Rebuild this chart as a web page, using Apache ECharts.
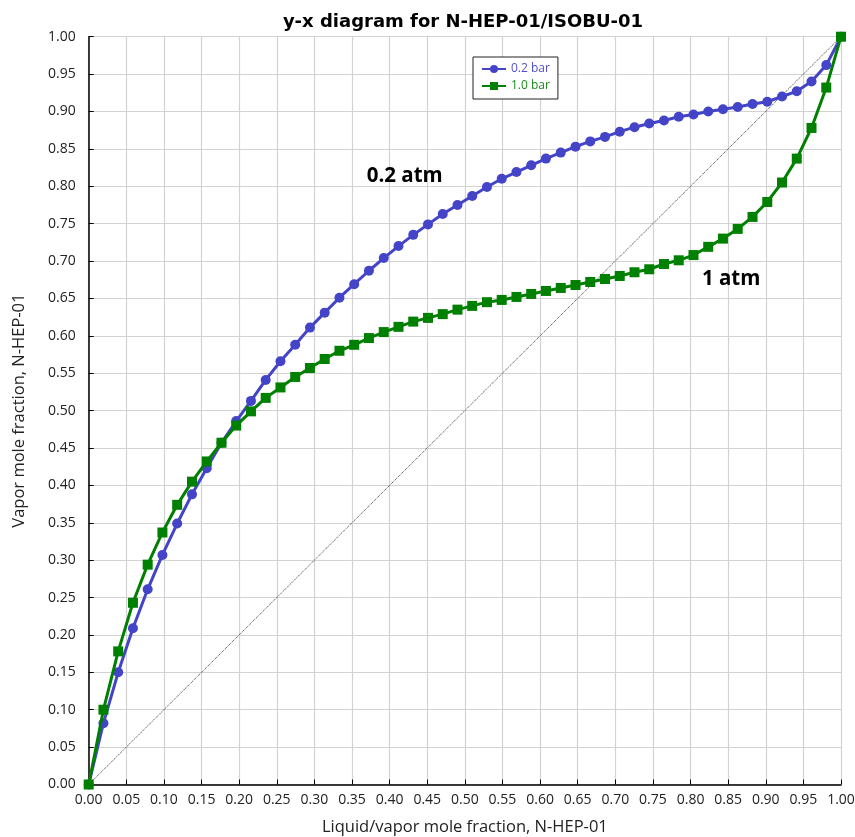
<!DOCTYPE html>
<html>
<head>
<meta charset="utf-8">
<script src="https://cdn.jsdelivr.net/npm/echarts@6/dist/echarts.min.js"></script>
<style>
html,body{margin:0;padding:0;background:#fff;}
#chart{width:855px;height:837px;}
</style>
</head>
<body>
<div id="chart"></div>
<script>
// Liquid mole fraction of N-HEP-01 (x values shared by both series)
const xValues = [0, 0.0196, 0.0392, 0.0588, 0.0784, 0.0980, 0.1176, 0.1373, 0.1569, 0.1765,
  0.1961, 0.2157, 0.2353, 0.2549, 0.2745, 0.2941, 0.3137, 0.3333, 0.3529, 0.3725,
  0.3922, 0.4118, 0.4314, 0.4510, 0.4706, 0.4902, 0.5098, 0.5294, 0.5490, 0.5686,
  0.5882, 0.6078, 0.6275, 0.6471, 0.6667, 0.6863, 0.7059, 0.7255, 0.7451, 0.7647,
  0.7843, 0.8039, 0.8235, 0.8431, 0.8627, 0.8824, 0.9020, 0.9216, 0.9412, 0.9608,
  0.9804, 1.0];

// Vapor mole fraction at 0.2 bar
const y02bar = [0, 0.082, 0.150, 0.209, 0.261, 0.307, 0.349, 0.388, 0.423, 0.457,
  0.486, 0.513, 0.541, 0.566, 0.588, 0.611, 0.631, 0.651, 0.669, 0.687,
  0.704, 0.720, 0.735, 0.749, 0.763, 0.775, 0.787, 0.799, 0.810, 0.819,
  0.828, 0.837, 0.845, 0.853, 0.860, 0.866, 0.873, 0.879, 0.884, 0.888,
  0.893, 0.896, 0.900, 0.903, 0.906, 0.910, 0.913, 0.920, 0.927, 0.940,
  0.962, 1.0];

// Vapor mole fraction at 1.0 bar
const y10bar = [0, 0.100, 0.178, 0.243, 0.294, 0.337, 0.374, 0.405, 0.432, 0.457,
  0.480, 0.499, 0.517, 0.531, 0.545, 0.557, 0.569, 0.580, 0.588, 0.597,
  0.605, 0.612, 0.619, 0.624, 0.629, 0.635, 0.640, 0.645, 0.648, 0.652,
  0.656, 0.660, 0.664, 0.668, 0.672, 0.676, 0.680, 0.685, 0.689, 0.696,
  0.701, 0.708, 0.719, 0.730, 0.743, 0.759, 0.779, 0.805, 0.837, 0.878,
  0.932, 1.0];

// 45-degree reference line
const diagX = [0, 1];
const diagY = [0, 1];

// Text annotations (data coordinates)
const annotationText = ['0.2 atm', '1 atm'];
const annotationX = [0.420, 0.854];
const annotationY = [0.813, 0.676];

const seriesNames = ['0.2 bar', '1.0 bar'];
const blue = '#4444c8';
const green = '#008000';
const FONT = 'Open Sans';

function pairs(xs, ys) { return xs.map((x, i) => [x, ys[i]]); }

const chart = echarts.init(document.getElementById('chart'));
chart.setOption({
  animation: false,
  backgroundColor: '#fff',
  textStyle: { fontFamily: FONT },
  title: {
    text: 'y-x diagram for N-HEP-01/ISOBU-01',
    left: 458, textAlign: 'center', top: 8,
    textStyle: { fontFamily: 'DejaVu Sans', fontSize: 18, fontWeight: 'bold', color: '#000' }
  },
  legend: {
    orient: 'vertical', left: 473, top: 57,
    padding: [6, 8, 7, 8], itemGap: 5,
    itemWidth: 24, itemHeight: 10,
    borderColor: '#222', borderWidth: 1, backgroundColor: '#fff',
    data: [
      { name: seriesNames[0], textStyle: { color: '#5050d0' } },
      { name: seriesNames[1], textStyle: { color: '#1a8a1a' } }
    ],
    textStyle: { fontFamily: FONT, fontSize: 12 }
  },
  grid: { left: 88.7, right: 14, top: 36.7, bottom: 52.5, containLabel: false, outerBoundsMode: 'none' },
  xAxis: {
    type: 'value', min: 0, max: 1, interval: 0.05,
    name: 'Liquid/vapor mole fraction, N-HEP-01',
    nameLocation: 'middle', nameGap: 34,
    nameTextStyle: { fontFamily: FONT, fontSize: 16.5, color: '#222' },
    axisLine: { show: true, onZero: false, lineStyle: { color: '#000', width: 1.5 } },
    axisTick: { show: true, inside: true, length: 5, lineStyle: { color: '#000' } },
    axisLabel: { margin: 9, fontFamily: FONT, fontSize: 14, color: '#222',
      formatter: v => v.toFixed(2) },
    splitLine: { show: true, lineStyle: { color: '#d2d2d2', width: 1.2 } }
  },
  yAxis: {
    type: 'value', min: 0, max: 1, interval: 0.05,
    name: 'Vapor mole fraction, N-HEP-01',
    nameLocation: 'middle', nameGap: 61,
    nameTextStyle: { fontFamily: FONT, fontSize: 16.5, color: '#222' },
    axisLine: { show: true, onZero: false, lineStyle: { color: '#000', width: 1.5 } },
    axisTick: { show: true, inside: true, length: 5, lineStyle: { color: '#000' } },
    axisLabel: { margin: 13, fontFamily: FONT, fontSize: 14, color: '#222',
      formatter: v => v.toFixed(2) },
    splitLine: { show: true, lineStyle: { color: '#d2d2d2', width: 1.2 } }
  },
  series: [
    {
      type: 'line', name: 'diag', data: pairs(diagX, diagY),
      showSymbol: false, silent: true, z: 1,
      lineStyle: { type: 'dotted', width: 1, color: '#333' }
    },
    {
      type: 'line', name: seriesNames[0], data: pairs(xValues, y02bar),
      symbol: 'circle', symbolSize: 10, z: 3,
      itemStyle: { color: blue },
      lineStyle: { color: blue, width: 3 }
    },
    {
      type: 'line', name: seriesNames[1], data: pairs(xValues, y10bar),
      symbol: 'rect', symbolSize: 10, z: 4,
      itemStyle: { color: green },
      lineStyle: { color: green, width: 3 }
    },
    {
      type: 'scatter', name: 'notes', silent: true, symbolSize: 1, z: 5,
      itemStyle: { color: 'rgba(0,0,0,0)', opacity: 1 },
      data: annotationText.map((t, i) => ({ value: [annotationX[i], annotationY[i]], name: t })),
      label: {
        show: true, position: 'inside', formatter: p => p.name,
        fontFamily: FONT, fontSize: 20.5, fontWeight: 'bold', color: '#000', opacity: 1
      }
    }
  ]
});
</script>
</body>
</html>
